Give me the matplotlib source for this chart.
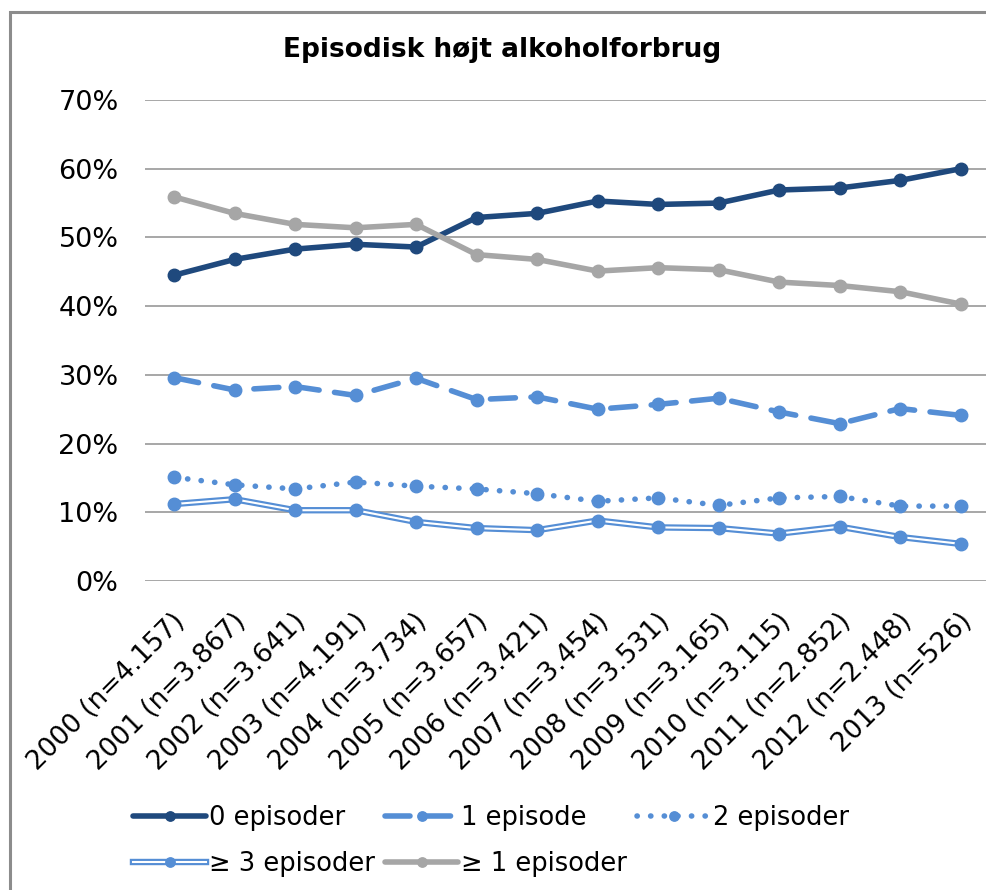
import numpy as np
import matplotlib
matplotlib.use('Agg')
import matplotlib.pyplot as plt
from matplotlib.patches import Rectangle
from matplotlib.ticker import PercentFormatter
import matplotlib.transforms as mtrans

#%% data
years = ['2000 (n=4.157)', '2001 (n=3.867)', '2002 (n=3.641)', '2003 (n=4.191)',
         '2004 (n=3.734)', '2005 (n=3.657)', '2006 (n=3.421)', '2007 (n=3.454)',
         '2008 (n=3.531)', '2009 (n=3.165)', '2010 (n=3.115)', '2011 (n=2.852)',
         '2012 (n=2.448)', '2013 (n=526)']

ep0 = [44.5, 46.8, 48.3, 49.0, 48.6, 52.9, 53.5, 55.3, 54.8, 55.0, 56.9, 57.2, 58.3, 60.0]
ep1 = [29.6, 27.8, 28.3, 27.0, 29.5, 26.4, 26.8, 25.0, 25.7, 26.6, 24.6, 22.9, 25.1, 24.1]
ep2 = [15.1, 14.0, 13.4, 14.4, 13.8, 13.4, 12.7, 11.6, 12.1, 11.0, 12.1, 12.3, 10.9, 10.9]
ep3plus = [11.2, 11.9, 10.3, 10.3, 8.6, 7.7, 7.4, 8.8, 7.8, 7.7, 6.9, 7.9, 6.4, 5.4]
ep1plus = [55.9, 53.5, 51.9, 51.4, 51.9, 47.5, 46.8, 45.1, 45.6, 45.3, 43.5, 43.0, 42.1, 40.3]

navy = '#1F497D'
blue = '#558ED5'
grey = '#A6A6A6'

#%% plot
fig = plt.figure(figsize=(9.86, 8.9), dpi=100)
ax = fig.add_axes([145/986, 1-581/890, (991-145)/986, (581-100)/890])

x = np.arange(len(years))
lw = 4
ms = 9

h0, = ax.plot(x, ep0, color=navy, lw=lw, marker='o', ms=ms, solid_capstyle='round')
h1, = ax.plot(x, ep1, color=blue, lw=lw, marker='o', ms=ms,
              linestyle=(0, (4.5, 2.8)), dash_capstyle='round')
h2, = ax.plot(x, ep2, color=blue, lw=lw, marker='o', ms=ms,
              linestyle=(0, (0.05, 2.4)), dash_capstyle='round')
# double line for >= 3
h3a, = ax.plot(x, ep3plus, color=blue, lw=4.6)
h3b, = ax.plot(x, ep3plus, color='white', lw=1.5)
h3c, = ax.plot(x, ep3plus, color=blue, lw=0, marker='o', ms=ms)
h4, = ax.plot(x, ep1plus, color=grey, lw=lw, marker='o', ms=ms, solid_capstyle='round')

ax.set_xlim(-0.48, 13.5)
ax.set_ylim(0, 70)
ax.set_yticks(np.arange(0, 71, 10))
ax.yaxis.set_major_formatter(PercentFormatter(decimals=0))
ax.grid(axis='y', color='#A0A0A0', lw=1.3)
ax.set_axisbelow(True)
for s in ax.spines.values():
    s.set_visible(False)
ax.tick_params(axis='y', length=0, pad=19, labelsize=19.5)
ax.tick_params(axis='x', length=0, pad=20, labelsize=19)
ax.set_xticks(x)
ax.set_xticklabels(years, rotation=45, ha='right', va='top', rotation_mode='anchor')
off = mtrans.ScaledTranslation(-2/100, 0, fig.dpi_scale_trans)
for lab in ax.get_xticklabels():
    lab.set_transform(lab.get_transform() + off)

fig.text(0.509, 1-50/890, 'Episodisk højt alkoholforbrug', ha='center', va='center',
         fontsize=19, fontweight='bold')

handles = [h0, (h3a, h3b, h3c), h1, h4, h2]
labels = ['0 episoder', '≥ 3 episoder', '1 episode', '≥ 1 episoder', '2 episoder']
leg = fig.legend(handles, labels, ncol=3, loc='center left',
                 bbox_to_anchor=(110/986, 1-841/890), frameon=False, fontsize=18.5,
                 handlelength=2.85, handletextpad=0.1, columnspacing=0.4,
                 labelspacing=0.75, markerscale=0.75)

# outer frame
fig.patches.append(Rectangle((10/986, -0.05), 1.2, 1.05 - 12/890, transform=fig.transFigure,
                             fill=False, edgecolor='#8C8C8C', lw=2.2))

plt.savefig('out.png', dpi=100)
